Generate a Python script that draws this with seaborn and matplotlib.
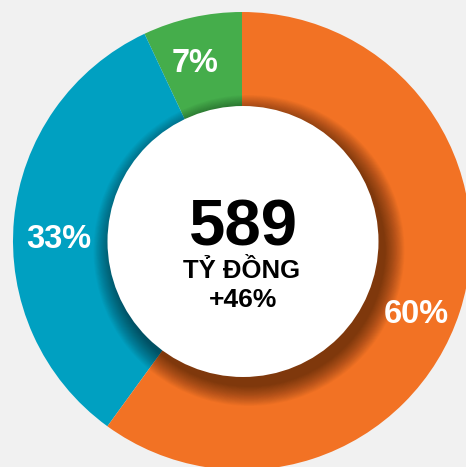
import matplotlib
matplotlib.use("Agg")
import matplotlib.pyplot as plt
import seaborn as sns
from matplotlib.patches import Circle

# du lieu co cau (%)
segments = ["Nhóm A", "Nhóm B", "Nhóm C"]
shares = [7, 33, 60]
seg_colors = ["#45ad4b", "#00a0c1", "#f27224"]
pct_labels = ["7%", "33%", "60%"]

total_value = "589"
unit_label = "TỶ ĐỒNG"
growth_label = "+46%"

sns.set_style("white")
plt.rcParams["font.family"] = ["Liberation Sans", "DejaVu Sans"]

BG = "#f1f1f1"
W, H = 466, 467
fig = plt.figure(figsize=(W / 100, H / 100), dpi=100, facecolor=BG)
ax = fig.add_axes([0, 0, 1, 1])
ax.set_facecolor(BG)
ax.axis("off")

cx, cy, R = 242, H - 241, 229
ax.pie(shares, colors=seg_colors, startangle=90, counterclock=True,
       radius=R, center=(cx, cy), wedgeprops=dict(linewidth=0))
ax.set_xlim(0, W)
ax.set_ylim(0, H)
ax.set_aspect("equal")

# bong do cua vong tron trang
icx, icy, r_in = 243, H - 241.5, 135.5
n = 24
for k in range(n):
    rr = r_in + 20 * (1 - k / n)
    ax.add_patch(Circle((icx + 6, icy - 9), rr, color="black",
                        alpha=0.024, linewidth=0, zorder=3))
ax.add_patch(Circle((icx, icy), r_in, color="white", linewidth=0, zorder=4))

# chu o giua
ax.text(243, H - 246, total_value, ha="center", va="baseline",
        fontsize=47, fontweight="bold", color="black", zorder=5)
ax.text(242, H - 278, unit_label, ha="center", va="baseline",
        fontsize=18.5, fontweight="bold", color="black", zorder=5)
ax.text(243, H - 307, growth_label, ha="center", va="baseline",
        fontsize=19, fontweight="bold", color="black", zorder=5)

# nhan phan tram
label_pos = [(195, H - 72), (59, H - 248), (416, H - 323)]
for txt, (x, y) in zip(pct_labels, label_pos):
    ax.text(x, y, txt, ha="center", va="baseline", fontsize=23.5,
            fontweight="bold", color="white", zorder=5)

fig.savefig("out.png", dpi=100, facecolor=BG)
